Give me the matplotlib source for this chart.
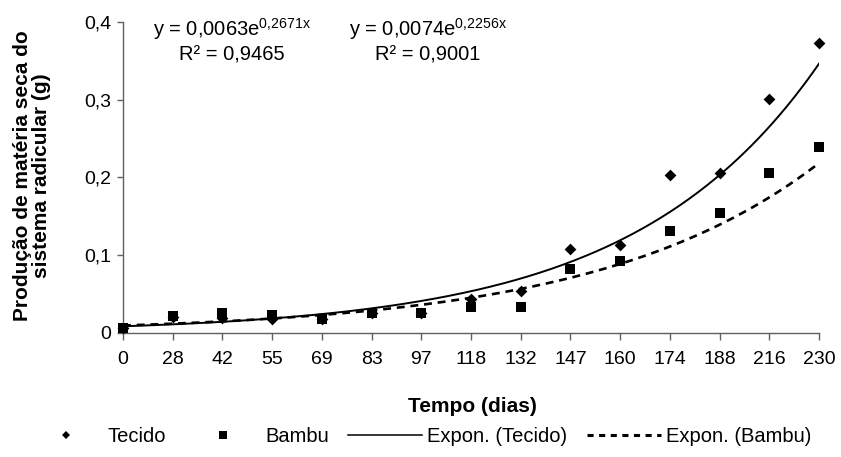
import numpy as np
import matplotlib
matplotlib.use("Agg")
import matplotlib.pyplot as plt
from matplotlib.lines import Line2D

plt.rcParams['font.family'] = ['Liberation Sans', 'DejaVu Sans']
plt.rcParams['mathtext.fontset'] = 'custom'
plt.rcParams['mathtext.rm'] = 'Liberation Sans'
plt.rcParams['mathtext.it'] = 'Liberation Sans'

categories = ["0", "28", "42", "55", "69", "83", "97", "118", "132", "147", "160", "174", "188", "216", "230"]
tecido = [0.006, 0.020, 0.019, 0.017, 0.018, 0.025, 0.025, 0.044, 0.054, 0.108, 0.113, 0.203, 0.206, 0.301, 0.373]
bambu = [0.006, 0.021, 0.025, 0.023, 0.0175, 0.025, 0.025, 0.033, 0.033, 0.082, 0.092, 0.131, 0.154, 0.206, 0.239]

# Excel exponential trendline coefficients (x = category number 1..15)
tec_a, tec_b = 0.0063, 0.2671
bam_a, bam_b = 0.0074, 0.2256

W, H = 841, 457
fig = plt.figure(figsize=(W / 100, H / 100), dpi=100)
ax = fig.add_axes([123 / W, 1 - 332.7 / H, (819 - 123) / W, 310.8 / H])

axis_col = '#606060'
pos = np.arange(len(categories))
xs = np.linspace(0, len(categories) - 1, 300)
ax.plot(xs, tec_a * np.exp(tec_b * (xs + 1)), color='black', lw=1.4, zorder=2)
ax.plot(xs, bam_a * np.exp(bam_b * (xs + 1)), color='black', lw=1.9, ls=(0, (3.0, 2.2)), zorder=2)
ax.scatter(pos, tecido, marker='D', s=36, color='black', linewidths=0, zorder=3, clip_on=False)
ax.scatter(pos, bambu, marker='s', s=55, color='black', linewidths=0, zorder=4, clip_on=False)

ax.set_xlim(0, len(categories) - 1)
ax.set_ylim(0, 0.4)
ax.set_xticks(pos)
ax.set_xticklabels(categories, fontsize=14)
ax.set_yticks([0, 0.1, 0.2, 0.3, 0.4])
ax.set_yticklabels(["0", "0,1", "0,2", "0,3", "0,4"], fontsize=14)
for s in ['top', 'right']:
    ax.spines[s].set_visible(False)
for s in ['left', 'bottom']:
    ax.spines[s].set_color(axis_col)
    ax.spines[s].set_linewidth(1.0)
ax.tick_params(axis='x', direction='out', length=5, width=1.0, color=axis_col, pad=8)
ax.tick_params(axis='y', direction='out', length=4.5, width=1.0, color=axis_col, pad=4)

fig.text(32 / W, 1 - 176 / H, "Produção de matéria seca do\nsistema radicular (g)", fontsize=15,
         fontweight='bold', rotation=90, ha='center', va='center', multialignment='center',
         linespacing=1.0)
fig.text(472 / W, 1 - 407 / H, "Tempo (dias)", fontsize=15, fontweight='bold',
         ha='center', va='center')

eq_fs = 14.5
fig.text(232 / W, 1 - 29 / H, r"y = 0,0063e$^{\mathrm{0{,}2671x}}$", fontsize=eq_fs, ha='center', va='center')
fig.text(232 / W, 1 - 55 / H, "R² = 0,9465", fontsize=eq_fs, ha='center', va='center')
fig.text(428 / W, 1 - 29 / H, r"y = 0,0074e$^{\mathrm{0{,}2256x}}$", fontsize=eq_fs, ha='center', va='center')
fig.text(428 / W, 1 - 55 / H, "R² = 0,9001", fontsize=eq_fs, ha='center', va='center')

handles = [
    Line2D([], [], marker='D', ls='none', color='black', markersize=4.2, markeredgewidth=0),
    Line2D([], [], marker='s', ls='none', color='black', markersize=5.5, markeredgewidth=0),
    Line2D([], [], color='black', lw=1.1),
    Line2D([], [], color='black', lw=2.2, ls=(0, (2.0, 1.8))),
]
labels = ["Tecido", "Bambu", "Expon. (Tecido)", "Expon. (Bambu)"]
fig.legend(handles, labels, loc='center', bbox_to_anchor=(420 / W, 1 - 437 / H), ncol=4,
           frameon=False, fontsize=14.5, handlelength=3.7, handletextpad=0.25,
           columnspacing=0.95, borderpad=0, borderaxespad=0)

fig.savefig("out.png", dpi=100)
